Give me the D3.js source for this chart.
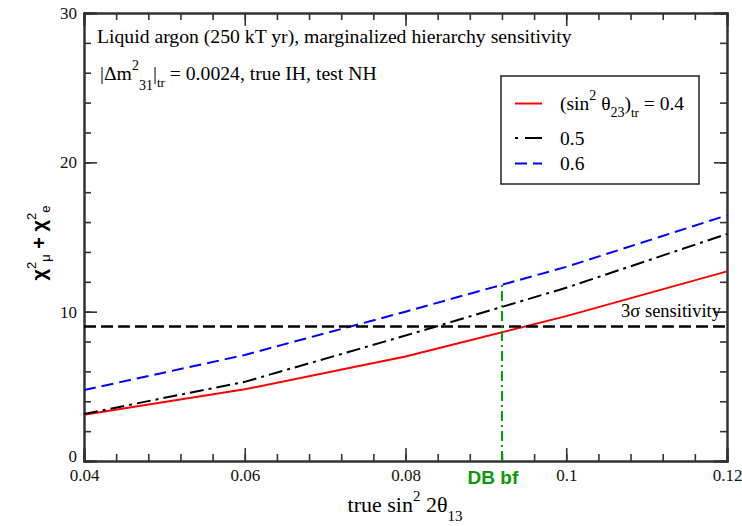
<!DOCTYPE html>
<html>
<head>
<meta charset="utf-8">
<script src="https://cdn.jsdelivr.net/npm/d3@7"></script>
<style>
  body { margin: 0; background: #fff; }
  svg { display: block; }
</style>
</head>
<body>
<svg id="chart" width="742" height="526"></svg>
<script>
// true sin^2 2θ13 sample points
const sin2theta13 = [0.04, 0.06, 0.08, 0.10, 0.12];
// χ²μ + χ²e for each true sin²θ23
const chiSq04 = [3.1, 4.8, 7.0, 9.7, 12.7];
const chiSq05 = [3.15, 5.3, 8.4, 11.6, 15.2];
const chiSq06 = [4.75, 7.1, 10.0, 13.0, 16.45];
const seriesNames = ["0.4", "0.5", "0.6"];
const xTicks = [0.04, 0.06, 0.08, 0.10, 0.12];
const xTickLabels = ["0.04", "0.06", "0.08", "0.1", "0.12"];
const yTicks = [0, 10, 20, 30];
const threeSigma = 9;
const dayaBayBestFit = 0.092;

const W = 742, H = 526;
const margin = { top: 13, right: 15, bottom: 65, left: 84 };
const svg = d3.select("#chart");

const x = d3.scaleLinear().domain([0.04, 0.12]).range([margin.left, W - margin.right]);
const y = d3.scaleLinear().domain([0, 30]).range([H - margin.bottom, margin.top]);

const axisColor = "#333";
const fontSerif = "'Liberation Serif', 'Times New Roman', serif";
const fontSans = "'Liberation Sans', Arial, sans-serif";

// minor ticks
const xMinor = d3.range(0.04, 0.1201, 0.004).map(v => +v.toFixed(4));
const yMinor = d3.range(0, 30.01, 2);

function styleAxis(g) {
  g.selectAll("path").attr("stroke", axisColor).attr("stroke-width", 2);
  g.selectAll("line").attr("stroke", axisColor).attr("stroke-width", 1.6);
  g.selectAll("text").attr("fill", "#111").style("font-family", fontSerif).style("font-size", "17px");
}

const plotBottom = H - margin.bottom, plotTop = margin.top;
const plotLeft = margin.left, plotRight = W - margin.right;

// minor ticks on all sides
svg.append("g").attr("transform", `translate(0,${plotBottom})`)
  .call(d3.axisBottom(x).tickValues(xMinor).tickSize(-7).tickFormat("")).call(styleAxis);
svg.append("g").attr("transform", `translate(0,${plotTop})`)
  .call(d3.axisTop(x).tickValues(xMinor).tickSize(-7).tickFormat("")).call(styleAxis);
svg.append("g").attr("transform", `translate(${plotLeft},0)`)
  .call(d3.axisLeft(y).tickValues(yMinor).tickSize(-7).tickFormat("")).call(styleAxis);
svg.append("g").attr("transform", `translate(${plotRight},0)`)
  .call(d3.axisRight(y).tickValues(yMinor).tickSize(-7).tickFormat("")).call(styleAxis);

// major ticks with labels
svg.append("g").attr("transform", `translate(0,${plotBottom})`)
  .call(d3.axisBottom(x).tickValues(xTicks).tickSize(-13).tickPadding(8)
    .tickFormat((d, i) => xTickLabels[i])).call(styleAxis);
svg.append("g").attr("transform", `translate(0,${plotTop})`)
  .call(d3.axisTop(x).tickValues(xTicks).tickSize(-13).tickFormat("")).call(styleAxis);
const yAxisG = svg.append("g").attr("transform", `translate(${plotLeft},0)`)
  .call(d3.axisLeft(y).tickValues(yTicks).tickSize(-13).tickPadding(7).tickFormat(d3.format("d"))).call(styleAxis);
// lift the "0" label a little so it clears the first x label
yAxisG.selectAll(".tick").filter(d => d === 0).select("text").attr("dy", "0.05em");
svg.append("g").attr("transform", `translate(${plotRight},0)`)
  .call(d3.axisRight(y).tickValues(yTicks).tickSize(-13).tickFormat("")).call(styleAxis);

// curves
const line = d3.line().x(d => x(d[0])).y(d => y(d[1]));
const series = [
  { name: seriesNames[0], vals: chiSq04, color: "#ff0000", dash: null, legendDash: null },
  { name: seriesNames[1], vals: chiSq05, color: "#000000", dash: "14 5 3 5", legendDash: "3 7 17" },
  { name: seriesNames[2], vals: chiSq06, color: "#0000ff", dash: "12 6", legendDash: "12 6 10" }
];
series.forEach(s => {
  svg.append("path")
    .datum(sin2theta13.map((v, i) => [v, s.vals[i]]))
    .attr("d", line)
    .attr("fill", "none")
    .attr("stroke", s.color)
    .attr("stroke-width", 2)
    .attr("stroke-dasharray", s.dash);
});

// 3σ line
svg.append("line")
  .attr("x1", plotLeft).attr("x2", plotRight)
  .attr("y1", y(threeSigma)).attr("y2", y(threeSigma))
  .attr("stroke", "#000").attr("stroke-width", 2.5).attr("stroke-dasharray", "12 5");

svg.append("text")
  .attr("x", plotRight - 6).attr("y", y(threeSigma) - 10)
  .attr("text-anchor", "end")
  .style("font-family", fontSerif).style("font-size", "18.5px")
  .text("3σ sensitivity");

// Daya Bay best fit marker, up to the 0.6 curve
const blueAtBf = d3.scaleLinear().domain(sin2theta13).range(chiSq06)(dayaBayBestFit);
svg.append("line")
  .attr("x1", x(dayaBayBestFit)).attr("x2", x(dayaBayBestFit))
  .attr("y1", y(0)).attr("y2", y(blueAtBf))
  .attr("stroke", "#00a000").attr("stroke-width", 2).attr("stroke-dasharray", "10 4 2 4");

svg.append("text")
  .attr("x", x(dayaBayBestFit) - 9).attr("y", plotBottom + 23)
  .attr("text-anchor", "middle")
  .style("font-family", fontSans)
  .style("font-size", "19px").style("font-weight", "bold")
  .attr("fill", "#0a9a0a")
  .text("DB bf");

// header text
svg.append("text")
  .attr("x", 97).attr("y", 43)
  .style("font-family", fontSerif).style("font-size", "19.7px")
  .text("Liquid argon (250 kT yr), marginalized hierarchy sensitivity");

const l2 = svg.append("text")
  .attr("x", 100).attr("y", 80)
  .style("font-family", fontSerif).style("font-size", "19.7px");
l2.append("tspan").text("|Δm");
l2.append("tspan").attr("dy", -10).style("font-size", "14px").text("2");
l2.append("tspan").attr("dy", 20).style("font-size", "14px").text("31");
l2.append("tspan").attr("dy", -10).text("|");
l2.append("tspan").attr("dy", 7).style("font-size", "13px").text("tr");
l2.append("tspan").attr("dy", -7).text(" = 0.0024, true IH, test NH");

// legend
const lg = svg.append("g");
lg.append("rect")
  .attr("x", 501).attr("y", 76).attr("width", 198).attr("height", 108)
  .attr("fill", "#fff").attr("stroke", "#222").attr("stroke-width", 1.5);
const legendY = [103.5, 138, 163.5];
const legendBase = [110, 145, 170];
series.forEach((s, i) => {
  lg.append("line")
    .attr("x1", 515).attr("x2", 542)
    .attr("y1", legendY[i]).attr("y2", legendY[i])
    .attr("stroke", s.color).attr("stroke-width", 2)
    .attr("stroke-dasharray", s.legendDash);
});
const t0 = lg.append("text").attr("x", 560).attr("y", legendBase[0])
  .style("font-family", fontSerif).style("font-size", "19.5px");
t0.append("tspan").text("(sin");
t0.append("tspan").attr("dy", -10).style("font-size", "14px").text("2");
t0.append("tspan").attr("dy", 10).text(" θ");
t0.append("tspan").attr("dy", 7).style("font-size", "14px").text("23");
t0.append("tspan").attr("dy", -7).text(")");
t0.append("tspan").attr("dy", 7).style("font-size", "13px").text("tr");
t0.append("tspan").attr("dy", -7).text(" = " + seriesNames[0]);
[1, 2].forEach(i => {
  lg.append("text").attr("x", 560).attr("y", legendBase[i])
    .style("font-family", fontSerif).style("font-size", "19.5px")
    .text(seriesNames[i]);
});

// x-axis title
const xt = svg.append("text")
  .attr("x", 405).attr("y", 512).attr("text-anchor", "middle")
  .style("font-family", fontSerif).style("font-size", "22px");
xt.append("tspan").text("true sin");
xt.append("tspan").attr("dy", -11).style("font-size", "15px").text("2");
xt.append("tspan").attr("dy", 11).text(" 2θ");
xt.append("tspan").attr("dy", 9).style("font-size", "15px").text("13");

// y-axis title
const yt = svg.append("text")
  .attr("transform", `translate(46,243) rotate(-90)`)
  .attr("text-anchor", "middle")
  .style("font-family", fontSans).style("font-size", "20px")
  .style("font-weight", "bold");
yt.append("tspan").text("χ");
yt.append("tspan").attr("dy", -10).style("font-size", "13px").style("font-weight", "normal").text("2");
yt.append("tspan").attr("dy", 14).style("font-size", "13px").style("font-weight", "normal").text("μ");
yt.append("tspan").attr("dy", -4).text(" + χ");
yt.append("tspan").attr("dy", -10).style("font-size", "13px").style("font-weight", "normal").text("2");
yt.append("tspan").attr("dy", 14).style("font-size", "13px").style("font-weight", "normal").text("e");
</script>
</body>
</html>
